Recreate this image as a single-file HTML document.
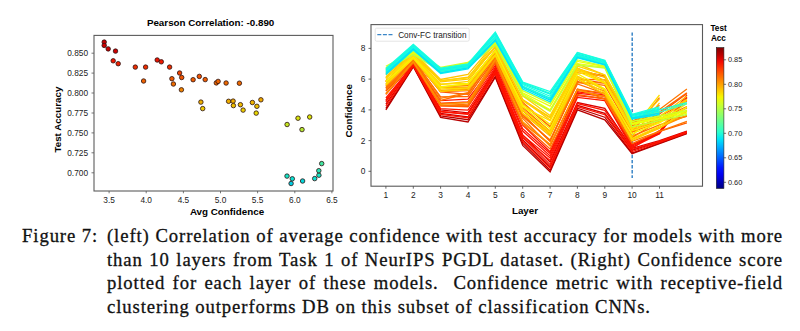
<!DOCTYPE html>
<html><head><meta charset="utf-8"><style>
html,body{margin:0;padding:0;background:#fff;width:800px;height:331px;overflow:hidden;position:relative}
svg{position:absolute;left:0;top:0}
.tk{font:8.3px "Liberation Sans",sans-serif;fill:#222}
.tk2{font:8.4px "Liberation Sans",sans-serif;fill:#222}
.ttl{font:bold 9.8px "Liberation Sans",sans-serif;fill:#000}
.lab{font:bold 9.8px "Liberation Sans",sans-serif;fill:#000}
.leg{font:8.2px "Liberation Sans",sans-serif;fill:#222}
.cbt{font:7.4px "Liberation Sans",sans-serif;fill:#222}
.cbl{font:bold 8.2px "Liberation Sans",sans-serif;fill:#000}
.cap{position:absolute;font-family:"Liberation Serif",serif;font-size:18.7px;line-height:20px;color:#111;white-space:nowrap;letter-spacing:0.9px;-webkit-text-stroke:0.3px #111}
.j{text-align:justify;text-align-last:justify;white-space:nowrap}
</style></head><body>
<svg width="800" height="331" viewBox="0 0 800 331">
<rect x="94.0" y="35.4" width="239.0" height="155.6" fill="none" stroke="#5c5c5c" stroke-width="1.1"/>
<line x1="91.5" y1="53.2" x2="94.0" y2="53.2" stroke="#555" stroke-width="0.8"/>
<text x="88.0" y="56.2" class="tk" text-anchor="end">0.850</text>
<line x1="91.5" y1="73.1" x2="94.0" y2="73.1" stroke="#555" stroke-width="0.8"/>
<text x="88.0" y="76.1" class="tk" text-anchor="end">0.825</text>
<line x1="91.5" y1="93.0" x2="94.0" y2="93.0" stroke="#555" stroke-width="0.8"/>
<text x="88.0" y="96.0" class="tk" text-anchor="end">0.800</text>
<line x1="91.5" y1="113.0" x2="94.0" y2="113.0" stroke="#555" stroke-width="0.8"/>
<text x="88.0" y="116.0" class="tk" text-anchor="end">0.775</text>
<line x1="91.5" y1="132.9" x2="94.0" y2="132.9" stroke="#555" stroke-width="0.8"/>
<text x="88.0" y="135.9" class="tk" text-anchor="end">0.750</text>
<line x1="91.5" y1="152.8" x2="94.0" y2="152.8" stroke="#555" stroke-width="0.8"/>
<text x="88.0" y="155.8" class="tk" text-anchor="end">0.725</text>
<line x1="91.5" y1="172.8" x2="94.0" y2="172.8" stroke="#555" stroke-width="0.8"/>
<text x="88.0" y="175.8" class="tk" text-anchor="end">0.700</text>
<line x1="109.1" y1="191.0" x2="109.1" y2="193.3" stroke="#555" stroke-width="0.8"/>
<text x="109.1" y="203.0" class="tk" text-anchor="middle">3.5</text>
<line x1="146.2" y1="191.0" x2="146.2" y2="193.3" stroke="#555" stroke-width="0.8"/>
<text x="146.2" y="203.0" class="tk" text-anchor="middle">4.0</text>
<line x1="183.4" y1="191.0" x2="183.4" y2="193.3" stroke="#555" stroke-width="0.8"/>
<text x="183.4" y="203.0" class="tk" text-anchor="middle">4.5</text>
<line x1="220.5" y1="191.0" x2="220.5" y2="193.3" stroke="#555" stroke-width="0.8"/>
<text x="220.5" y="203.0" class="tk" text-anchor="middle">5.0</text>
<line x1="257.6" y1="191.0" x2="257.6" y2="193.3" stroke="#555" stroke-width="0.8"/>
<text x="257.6" y="203.0" class="tk" text-anchor="middle">5.5</text>
<line x1="294.8" y1="191.0" x2="294.8" y2="193.3" stroke="#555" stroke-width="0.8"/>
<text x="294.8" y="203.0" class="tk" text-anchor="middle">6.0</text>
<line x1="331.9" y1="191.0" x2="331.9" y2="193.3" stroke="#555" stroke-width="0.8"/>
<text x="331.9" y="203.0" class="tk" text-anchor="middle">6.5</text>
<circle cx="104.2" cy="42.1" r="2.25" fill="#cc0000" stroke="#2a1010" stroke-width="0.8"/>
<circle cx="104.2" cy="45.4" r="2.25" fill="#cc0000" stroke="#2a1010" stroke-width="0.8"/>
<circle cx="108.2" cy="48.9" r="2.25" fill="#cc0000" stroke="#2a1010" stroke-width="0.8"/>
<circle cx="115.5" cy="51.1" r="2.25" fill="#cc0000" stroke="#2a1010" stroke-width="0.8"/>
<circle cx="113.2" cy="60.8" r="2.25" fill="#ed1600" stroke="#2a1010" stroke-width="0.8"/>
<circle cx="118.2" cy="63.7" r="2.25" fill="#ed2100" stroke="#2a1010" stroke-width="0.8"/>
<circle cx="135.3" cy="67.1" r="2.25" fill="#ed2d00" stroke="#2a1010" stroke-width="0.8"/>
<circle cx="145.6" cy="67.1" r="2.25" fill="#ed2d00" stroke="#2a1010" stroke-width="0.8"/>
<circle cx="143.6" cy="81" r="2.25" fill="#ed6200" stroke="#2a1010" stroke-width="0.8"/>
<circle cx="157.2" cy="60" r="2.25" fill="#ed1300" stroke="#2a1010" stroke-width="0.8"/>
<circle cx="161.3" cy="61.8" r="2.25" fill="#ed1a00" stroke="#2a1010" stroke-width="0.8"/>
<circle cx="169.6" cy="67.1" r="2.25" fill="#ed2d00" stroke="#2a1010" stroke-width="0.8"/>
<circle cx="179.6" cy="73" r="2.25" fill="#ed4400" stroke="#2a1010" stroke-width="0.8"/>
<circle cx="171.9" cy="78.7" r="2.25" fill="#ed5900" stroke="#2a1010" stroke-width="0.8"/>
<circle cx="181.7" cy="77.5" r="2.25" fill="#ed5400" stroke="#2a1010" stroke-width="0.8"/>
<circle cx="173.4" cy="84" r="2.25" fill="#ed6c00" stroke="#2a1010" stroke-width="0.8"/>
<circle cx="181.4" cy="89.8" r="2.25" fill="#ed8200" stroke="#2a1010" stroke-width="0.8"/>
<circle cx="193.1" cy="79.7" r="2.25" fill="#ed5c00" stroke="#2a1010" stroke-width="0.8"/>
<circle cx="199.3" cy="76.4" r="2.25" fill="#ed5100" stroke="#2a1010" stroke-width="0.8"/>
<circle cx="205.2" cy="79.6" r="2.25" fill="#ed5c00" stroke="#2a1010" stroke-width="0.8"/>
<circle cx="216.3" cy="82.9" r="2.25" fill="#ed6900" stroke="#2a1010" stroke-width="0.8"/>
<circle cx="218.1" cy="81.4" r="2.25" fill="#ed6300" stroke="#2a1010" stroke-width="0.8"/>
<circle cx="226.1" cy="83" r="2.25" fill="#ed6900" stroke="#2a1010" stroke-width="0.8"/>
<circle cx="239.4" cy="83.2" r="2.25" fill="#ed6a00" stroke="#2a1010" stroke-width="0.8"/>
<circle cx="200.9" cy="102.1" r="2.25" fill="#edb000" stroke="#2a1010" stroke-width="0.8"/>
<circle cx="202.7" cy="108.6" r="2.25" fill="#edc800" stroke="#2a1010" stroke-width="0.8"/>
<circle cx="228.6" cy="101.3" r="2.25" fill="#edad00" stroke="#2a1010" stroke-width="0.8"/>
<circle cx="233.1" cy="101.1" r="2.25" fill="#edac00" stroke="#2a1010" stroke-width="0.8"/>
<circle cx="233.4" cy="105.6" r="2.25" fill="#edbd00" stroke="#2a1010" stroke-width="0.8"/>
<circle cx="240.4" cy="104.7" r="2.25" fill="#edba00" stroke="#2a1010" stroke-width="0.8"/>
<circle cx="243.1" cy="110.1" r="2.25" fill="#edce00" stroke="#2a1010" stroke-width="0.8"/>
<circle cx="252.4" cy="102.5" r="2.25" fill="#edb200" stroke="#2a1010" stroke-width="0.8"/>
<circle cx="260.9" cy="99.8" r="2.25" fill="#eda700" stroke="#2a1010" stroke-width="0.8"/>
<circle cx="256.9" cy="106.3" r="2.25" fill="#edbf00" stroke="#2a1010" stroke-width="0.8"/>
<circle cx="256.2" cy="113.1" r="2.25" fill="#e8d800" stroke="#2a1010" stroke-width="0.8"/>
<circle cx="287.1" cy="124.5" r="2.25" fill="#c2e521" stroke="#2a1010" stroke-width="0.8"/>
<circle cx="298" cy="118.2" r="2.25" fill="#d7e50d" stroke="#2a1010" stroke-width="0.8"/>
<circle cx="309.7" cy="117" r="2.25" fill="#dbe509" stroke="#2a1010" stroke-width="0.8"/>
<circle cx="302" cy="129.6" r="2.25" fill="#b1e532" stroke="#2a1010" stroke-width="0.8"/>
<circle cx="287" cy="176.1" r="2.25" fill="#16e5c8" stroke="#2a1010" stroke-width="0.8"/>
<circle cx="292.3" cy="178.8" r="2.25" fill="#0dded1" stroke="#2a1010" stroke-width="0.8"/>
<circle cx="291.1" cy="183.5" r="2.25" fill="#00cbe0" stroke="#2a1010" stroke-width="0.8"/>
<circle cx="302.6" cy="181" r="2.25" fill="#05d5d8" stroke="#2a1010" stroke-width="0.8"/>
<circle cx="314.7" cy="178.6" r="2.25" fill="#0ddfd0" stroke="#2a1010" stroke-width="0.8"/>
<circle cx="318.9" cy="175.2" r="2.25" fill="#19e5c6" stroke="#2a1010" stroke-width="0.8"/>
<circle cx="318.8" cy="170.7" r="2.25" fill="#27e5b6" stroke="#2a1010" stroke-width="0.8"/>
<circle cx="321.7" cy="163.6" r="2.25" fill="#40e5a0" stroke="#2a1010" stroke-width="0.8"/>
<text x="210.6" y="26.1" class="ttl" text-anchor="middle">Pearson Correlation: -0.890</text>
<text x="227" y="214.5" class="lab" text-anchor="middle">Avg Confidence</text>
<text transform="translate(61.0,119.6) rotate(-90)" class="lab" text-anchor="middle">Test Accuracy</text>
<clipPath id="rc"><rect x="371.0" y="24.6" width="331.5" height="161.6"/></clipPath>
<line x1="632.2" y1="32.4" x2="632.2" y2="178" stroke="#3a86c8" stroke-width="1.5" stroke-dasharray="3.4,1.7"/>
<g clip-path="url(#rc)" fill="none" stroke-width="1.3" stroke-linejoin="miter">
<polyline points="385.9,109.9 413.3,66.8 440.6,117.5 468.0,122.0 495.3,77.2 522.7,145.4 550.1,172.0 577.4,109.9 604.8,119.8 632.1,153.7 659.5,143.7 686.9,133.7" stroke="#b90000"/>
<polyline points="385.9,108.3 413.3,66.3 440.6,115.8 468.0,119.7 495.3,76.5 522.7,143.1 550.1,170.3 577.4,108.2 604.8,117.2 632.1,153.0 659.5,143.2 686.9,133.1" stroke="#b90000"/>
<polyline points="385.9,104.2 413.3,65.2 440.6,113.3 468.0,117.0 495.3,73.1 522.7,139.7 550.1,166.8 577.4,105.3 604.8,113.3 632.1,150.2 659.5,141.9 686.9,132.1" stroke="#cb0000"/>
<polyline points="385.9,100.6 413.3,63.8 440.6,109.9 468.0,112.9 495.3,69.9 522.7,135.0 550.1,162.1 577.4,102.6 604.8,108.3 632.1,148.3 659.5,140.6 686.9,131.1" stroke="#d60000"/>
<polyline points="385.9,105.8 413.3,65.8 440.6,114.5 468.0,117.8 495.3,74.0 522.7,141.3 550.1,168.2 577.4,106.6 604.8,114.7 632.1,151.5 659.5,142.3 686.9,132.7" stroke="#ff1300"/>
<polyline points="385.9,98.0 413.3,64.6 440.6,108.6 468.0,110.1 495.3,69.0 522.7,135.2 550.1,157.9 577.4,95.7 604.8,98.3 632.1,147.3 659.5,133.7 686.9,98.4" stroke="#ff1300"/>
<polyline points="385.9,101.8 413.3,64.5 440.6,111.8 468.0,114.3 495.3,71.9 522.7,137.1 550.1,164.7 577.4,103.5 604.8,110.4 632.1,149.3 659.5,141.4 686.9,131.6" stroke="#ff1300"/>
<polyline points="385.9,94.4 413.3,63.2 440.6,105.5 468.0,106.3 495.3,67.5 522.7,131.0 550.1,156.0 577.4,93.2 604.8,96.3 632.1,146.1 659.5,132.5 686.9,97.2" stroke="#ff1300"/>
<polyline points="385.9,99.9 413.3,65.2 440.6,111.4 468.0,113.8 495.3,71.5 522.7,137.5 550.1,160.5 577.4,97.4 604.8,100.6 632.1,148.3 659.5,130.6" stroke="#ff1300"/>
<polyline points="385.9,87.9 413.3,61.5 440.6,100.7 468.0,99.1 495.3,63.0 522.7,125.2 550.1,151.8 577.4,89.9 604.8,93.5 632.1,144.5 659.5,133.7" stroke="#ff1300"/>
<polyline points="385.9,91.1 413.3,62.5 440.6,103.3 468.0,101.9 495.3,65.5 522.7,128.7 550.1,153.6 577.4,91.8 604.8,95.1 632.1,145.0 659.5,131.5 686.9,94.9" stroke="#ff1300"/>
<polyline points="385.9,81.3 413.3,56.3 440.6,91.5 468.0,90.7 495.3,52.9 522.7,109.4 550.1,131.4 577.4,70.7 604.8,75.9 632.1,125.7 659.5,114.0 686.9,93.6" stroke="#ff4c00"/>
<polyline points="385.9,85.6 413.3,59.8 440.6,96.9 468.0,96.5 495.3,58.1 522.7,114.8 550.1,141.5 577.4,81.2 604.8,91.2 632.1,132.0 659.5,121.7 686.9,107.8" stroke="#ff6300"/>
<polyline points="385.9,93.5 413.3,63.0 440.6,105.8 468.0,106.8 495.3,63.0 522.7,124.4 550.1,149.0 577.4,94.5 604.8,99.1 632.1,143.7 659.5,131.4 686.9,122.9" stroke="#ff5e00"/>
<polyline points="385.9,81.7 413.3,58.6 440.6,91.8 468.0,94.4 495.3,55.1 522.7,110.5 550.1,133.7 577.4,79.2 604.8,83.1 632.1,131.2 659.5,116.7 686.9,101.0" stroke="#ff5a00"/>
<polyline points="385.9,80.7 413.3,57.3 440.6,86.8 468.0,87.8 495.3,52.4 522.7,103.8 550.1,126.8 577.4,72.7 604.8,76.2 632.1,123.0 659.5,112.1 686.9,92.9" stroke="#ff6700"/>
<polyline points="385.9,90.6 413.3,61.6 440.6,105.1 468.0,105.6 495.3,60.9 522.7,123.1 550.1,144.8 577.4,89.0 604.8,99.1 632.1,141.3 659.5,131.4 686.9,121.3" stroke="#ff7500"/>
<polyline points="385.9,89.4 413.3,60.8 440.6,103.5 468.0,102.5 495.3,58.0 522.7,116.6 550.1,139.9 577.4,84.0 604.8,93.6 632.1,137.6 659.5,120.7 686.9,116.3" stroke="#ff6d00"/>
<polyline points="385.9,82.2 413.3,56.9 440.6,90.3 468.0,89.3 495.3,51.4 522.7,107.4 550.1,131.3 577.4,79.1 604.8,79.8 632.1,123.8 659.5,105.3" stroke="#ff6700"/>
<polyline points="385.9,84.5 413.3,60.1 440.6,100.5 468.0,93.2 495.3,54.7 522.7,114.5 550.1,140.9 577.4,82.1 604.8,85.3 632.1,132.0 659.5,97.6" stroke="#ff6e00"/>
<polyline points="385.9,87.8 413.3,61.7 440.6,105.6 468.0,104.2 495.3,58.9 522.7,118.4 550.1,146.2 577.4,89.1 604.8,93.3 632.1,136.1 659.5,124.8 686.9,116.1" stroke="#ff7500"/>
<polyline points="385.9,77.7 413.3,57.0 440.6,86.8 468.0,85.5 495.3,50.0 522.7,102.2 550.1,126.8 577.4,69.5 604.8,77.0 632.1,121.1 659.5,109.5 686.9,89.1" stroke="#ff7600"/>
<polyline points="385.9,86.5 413.3,58.2 440.6,98.3 468.0,92.6 495.3,56.8 522.7,109.6 550.1,134.6 577.4,82.7 604.8,82.9 632.1,132.1 659.5,119.2 686.9,106.5" stroke="#ff7900"/>
<polyline points="385.9,94.0 413.3,61.7 440.6,104.3 468.0,102.3 495.3,59.3 522.7,121.7 550.1,144.3 577.4,90.0 604.8,96.5 632.1,139.2 659.5,127.4 686.9,115.3" stroke="#ff9100"/>
<polyline points="385.9,74.7 413.3,53.2 440.6,80.9 468.0,77.2 495.3,46.5 522.7,99.6 550.1,117.4 577.4,68.5 604.8,77.2 632.1,127.0 659.5,119.8 686.9,100.3" stroke="#ffc000"/>
<polyline points="385.9,81.7 413.3,56.7 440.6,87.1 468.0,86.9 495.3,52.4 522.7,110.5 550.1,130.8 577.4,76.7 604.8,88.9 632.1,136.5 659.5,102.9" stroke="#ffc100"/>
<polyline points="385.9,83.9 413.3,58.4 440.6,91.2 468.0,88.1 495.3,55.1 522.7,113.4 550.1,136.0 577.4,79.1 604.8,94.5 632.1,138.9 659.5,128.3 686.9,111.4" stroke="#ffba00"/>
<polyline points="385.9,71.5 413.3,52.0 440.6,79.5 468.0,74.5 495.3,42.3 522.7,95.9 550.1,110.3 577.4,63.8 604.8,75.1 632.1,123.9 659.5,117.0 686.9,96.0" stroke="#ffc400"/>
<polyline points="385.9,76.8 413.3,53.6 440.6,81.8 468.0,79.1 495.3,47.6 522.7,99.9 550.1,120.0 577.4,68.0 604.8,80.5 632.1,128.4 659.5,99.1" stroke="#ffc600"/>
<polyline points="385.9,85.2 413.3,57.8 440.6,91.4 468.0,89.9 495.3,55.5 522.7,113.1 550.1,134.0 577.4,76.2 604.8,90.1 632.1,140.6 659.5,127.7 686.9,110.1" stroke="#ffd200"/>
<polyline points="385.9,78.2 413.3,54.4 440.6,84.5 468.0,81.5 495.3,46.2 522.7,100.8 550.1,117.8 577.4,68.2 604.8,82.6 632.1,128.7 659.5,120.2 686.9,100.0" stroke="#ffcf00"/>
<polyline points="385.9,73.8 413.3,52.3 440.6,80.7 468.0,78.0 495.3,43.1 522.7,95.9 550.1,115.5 577.4,66.1 604.8,75.0 632.1,123.7 659.5,116.0 686.9,99.2" stroke="#ffd500"/>
<polyline points="385.9,80.9 413.3,56.6 440.6,86.6 468.0,84.3 495.3,50.7 522.7,104.6 550.1,124.2 577.4,71.5 604.8,83.1 632.1,130.7 659.5,121.9 686.9,103.4" stroke="#ffe500"/>
<polyline points="385.9,84.3 413.3,58.5 440.6,89.0 468.0,87.8 495.3,54.7 522.7,109.6 550.1,132.4 577.4,78.1 604.8,92.5 632.1,138.7 659.5,126.0 686.9,107.2" stroke="#ffda00"/>
<polyline points="385.9,78.5 413.3,56.2 440.6,84.1 468.0,83.4 495.3,50.4 522.7,107.0 550.1,120.7 577.4,69.6 604.8,82.4 632.1,129.9 659.5,95.0" stroke="#ffdf00"/>
<polyline points="385.9,82.1 413.3,57.3 440.6,87.4 468.0,83.3 495.3,50.6 522.7,106.2 550.1,128.5 577.4,73.7 604.8,88.9 632.1,133.6 659.5,122.9 686.9,107.2" stroke="#faf100"/>
<polyline points="385.9,68.6 413.3,53.2 440.6,70.1 468.0,64.6 495.3,44.1 522.7,93.8 550.1,109.8 577.4,63.7 604.8,67.3 632.1,124.5 659.5,118.9 686.9,113.1" stroke="#e8ff0f"/>
<polyline points="385.9,67.9 413.3,52.6 440.6,68.4 468.0,62.9 495.3,42.8 522.7,92.8 550.1,106.2 577.4,61.4 604.8,66.6 632.1,123.5 659.5,117.9 686.9,111.4" stroke="#ecff0a"/>
<polyline points="385.9,66.3 413.3,51.5 440.6,67.3 468.0,62.4 495.3,41.7 522.7,90.7 550.1,103.7 577.4,59.9 604.8,66.1 632.1,121.4 659.5,116.0 686.9,110.5" stroke="#d1ff25"/>
<polyline points="385.9,69.4 413.3,54.6 440.6,71.1 468.0,66.5 495.3,45.0 522.7,95.3 550.1,111.4 577.4,65.0 604.8,68.1 632.1,126.8 659.5,120.6 686.9,114.5" stroke="#bfff38"/>
<polyline points="385.9,72.7 413.3,48.4 440.6,72.3 468.0,67.7 495.3,39.1 522.7,86.8 550.1,99.0 577.4,56.3 604.8,63.9 632.1,117.9 659.5,112.0 686.9,103.8" stroke="#45ffb2"/>
<polyline points="385.9,69.4 413.3,44.9 440.6,69.0 468.0,64.3 495.3,32.9 522.7,82.5 550.1,93.3 577.4,52.8 604.8,60.9 632.1,114.8 659.5,108.2" stroke="#2bffcb"/>
<polyline points="385.9,68.6 413.3,44.4 440.6,68.2 468.0,63.8 495.3,32.2 522.7,82.1 550.1,91.5 577.4,52.5 604.8,60.4 632.1,114.3 659.5,106.9" stroke="#18ffdf"/>
<polyline points="385.9,71.8 413.3,47.8 440.6,71.4 468.0,66.6 495.3,37.4 522.7,86.0 550.1,98.1 577.4,55.8 604.8,62.9 632.1,117.3 659.5,110.8" stroke="#0ff8e8"/>
<polyline points="385.9,71.0 413.3,47.0 440.6,70.8 468.0,66.0 495.3,36.2 522.7,84.6 550.1,96.3 577.4,54.9 604.8,62.6 632.1,116.5 659.5,109.9 686.9,102.6" stroke="#1bffdc"/>
<polyline points="385.9,74.5 413.3,50.0 440.6,73.5 468.0,69.0 495.3,40.8 522.7,89.0 550.1,101.9 577.4,57.8 604.8,64.8 632.1,119.0 659.5,114.5" stroke="#06edf0"/>
<polyline points="385.9,70.2 413.3,46.1 440.6,69.7 468.0,65.3 495.3,34.2 522.7,83.6 550.1,94.1 577.4,54.1 604.8,61.7 632.1,115.5 659.5,109.1" stroke="#0ef7e9"/>
<polyline points="385.9,73.6 413.3,48.9 440.6,72.8 468.0,68.0 495.3,39.9 522.7,87.6 550.1,100.1 577.4,57.2 604.8,64.5 632.1,118.2 659.5,113.1" stroke="#00e2f9"/>
</g>
<rect x="371.0" y="24.6" width="331.5" height="161.6" fill="none" stroke="#5a5a5a" stroke-width="1.1"/>
<line x1="368.5" y1="171.3" x2="371.0" y2="171.3" stroke="#444" stroke-width="0.8"/>
<text x="365.5" y="174.2" class="tk2" text-anchor="end">0</text>
<line x1="368.5" y1="140.6" x2="371.0" y2="140.6" stroke="#444" stroke-width="0.8"/>
<text x="365.5" y="143.5" class="tk2" text-anchor="end">2</text>
<line x1="368.5" y1="109.9" x2="371.0" y2="109.9" stroke="#444" stroke-width="0.8"/>
<text x="365.5" y="112.8" class="tk2" text-anchor="end">4</text>
<line x1="368.5" y1="79.1" x2="371.0" y2="79.1" stroke="#444" stroke-width="0.8"/>
<text x="365.5" y="82.0" class="tk2" text-anchor="end">6</text>
<line x1="368.5" y1="48.4" x2="371.0" y2="48.4" stroke="#444" stroke-width="0.8"/>
<text x="365.5" y="51.3" class="tk2" text-anchor="end">8</text>
<line x1="385.9" y1="186.2" x2="385.9" y2="188.7" stroke="#444" stroke-width="0.8"/>
<text x="385.9" y="198.2" class="tk2" text-anchor="middle">1</text>
<line x1="413.3" y1="186.2" x2="413.3" y2="188.7" stroke="#444" stroke-width="0.8"/>
<text x="413.3" y="198.2" class="tk2" text-anchor="middle">2</text>
<line x1="440.6" y1="186.2" x2="440.6" y2="188.7" stroke="#444" stroke-width="0.8"/>
<text x="440.6" y="198.2" class="tk2" text-anchor="middle">3</text>
<line x1="468.0" y1="186.2" x2="468.0" y2="188.7" stroke="#444" stroke-width="0.8"/>
<text x="468.0" y="198.2" class="tk2" text-anchor="middle">4</text>
<line x1="495.3" y1="186.2" x2="495.3" y2="188.7" stroke="#444" stroke-width="0.8"/>
<text x="495.3" y="198.2" class="tk2" text-anchor="middle">5</text>
<line x1="522.7" y1="186.2" x2="522.7" y2="188.7" stroke="#444" stroke-width="0.8"/>
<text x="522.7" y="198.2" class="tk2" text-anchor="middle">6</text>
<line x1="550.1" y1="186.2" x2="550.1" y2="188.7" stroke="#444" stroke-width="0.8"/>
<text x="550.1" y="198.2" class="tk2" text-anchor="middle">7</text>
<line x1="577.4" y1="186.2" x2="577.4" y2="188.7" stroke="#444" stroke-width="0.8"/>
<text x="577.4" y="198.2" class="tk2" text-anchor="middle">8</text>
<line x1="604.8" y1="186.2" x2="604.8" y2="188.7" stroke="#444" stroke-width="0.8"/>
<text x="604.8" y="198.2" class="tk2" text-anchor="middle">9</text>
<line x1="632.1" y1="186.2" x2="632.1" y2="188.7" stroke="#444" stroke-width="0.8"/>
<text x="632.1" y="198.2" class="tk2" text-anchor="middle">10</text>
<line x1="659.5" y1="186.2" x2="659.5" y2="188.7" stroke="#444" stroke-width="0.8"/>
<text x="659.5" y="198.2" class="tk2" text-anchor="middle">11</text>
<rect x="375.2" y="28.2" width="94" height="13" rx="1.5" fill="#fff" fill-opacity="0.9" stroke="#ddd" stroke-width="0.8"/>
<line x1="377.3" y1="34.6" x2="392.5" y2="34.6" stroke="#3a86c8" stroke-width="1.4" stroke-dasharray="4,1.6"/>
<text x="398.2" y="37.8" class="leg">Conv-FC transition</text>
<text x="525" y="214" class="lab" text-anchor="middle">Layer</text>
<text transform="translate(352.2,110.8) rotate(-90)" class="lab" text-anchor="middle">Confidence</text>
<defs><linearGradient id="cbg" x1="0" y1="1" x2="0" y2="0">
<stop offset="0.00" stop-color="#000080"/>
<stop offset="0.05" stop-color="#0000b9"/>
<stop offset="0.10" stop-color="#0000f3"/>
<stop offset="0.15" stop-color="#0019ff"/>
<stop offset="0.20" stop-color="#004dff"/>
<stop offset="0.25" stop-color="#0080ff"/>
<stop offset="0.30" stop-color="#00b3ff"/>
<stop offset="0.35" stop-color="#00e5f7"/>
<stop offset="0.40" stop-color="#29ffce"/>
<stop offset="0.45" stop-color="#52ffa5"/>
<stop offset="0.50" stop-color="#7bff7b"/>
<stop offset="0.55" stop-color="#a5ff52"/>
<stop offset="0.60" stop-color="#ceff29"/>
<stop offset="0.65" stop-color="#f7f600"/>
<stop offset="0.70" stop-color="#ffc600"/>
<stop offset="0.75" stop-color="#ff9700"/>
<stop offset="0.80" stop-color="#ff6800"/>
<stop offset="0.85" stop-color="#ff3900"/>
<stop offset="0.90" stop-color="#f30900"/>
<stop offset="0.95" stop-color="#b90000"/>
<stop offset="1.00" stop-color="#800000"/>
</linearGradient></defs>
<rect x="716.3" y="47.6" width="7.600000000000023" height="140.9" fill="url(#cbg)" stroke="#222" stroke-width="0.6"/>
<line x1="723.9" y1="59.8" x2="726.1" y2="59.8" stroke="#333" stroke-width="0.7"/>
<text x="727.9" y="62.3" class="cbt">0.85</text>
<line x1="723.9" y1="84.3" x2="726.1" y2="84.3" stroke="#333" stroke-width="0.7"/>
<text x="727.9" y="86.8" class="cbt">0.80</text>
<line x1="723.9" y1="108.8" x2="726.1" y2="108.8" stroke="#333" stroke-width="0.7"/>
<text x="727.9" y="111.3" class="cbt">0.75</text>
<line x1="723.9" y1="133.3" x2="726.1" y2="133.3" stroke="#333" stroke-width="0.7"/>
<text x="727.9" y="135.8" class="cbt">0.70</text>
<line x1="723.9" y1="157.8" x2="726.1" y2="157.8" stroke="#333" stroke-width="0.7"/>
<text x="727.9" y="160.3" class="cbt">0.65</text>
<line x1="723.9" y1="182.3" x2="726.1" y2="182.3" stroke="#333" stroke-width="0.7"/>
<text x="727.9" y="184.8" class="cbt">0.60</text>
<text x="718.6" y="30.8" class="cbl" text-anchor="middle">Test</text>
<text x="718.4" y="40.8" class="cbl" text-anchor="middle">Acc</text>
</svg>
<div class="cap" style="left:22px;top:226.2px;">Figure 7:</div><div class="cap j" style="left:107px;top:226.2px;width:676px;">(left) Correlation of average confidence with test accuracy for models with more</div><div class="cap j" style="left:107px;top:249.5px;width:676px;">than 10 layers from Task 1 of NeurIPS PGDL dataset. (Right) Confidence score</div><div class="cap j" style="left:107px;top:273.1px;width:676px;">plotted for each layer of these models.&nbsp; Confidence metric with receptive-field</div><div class="cap" style="left:107px;top:296.6px;">clustering outperforms DB on this subset of classification CNNs.</div>
</body></html>
